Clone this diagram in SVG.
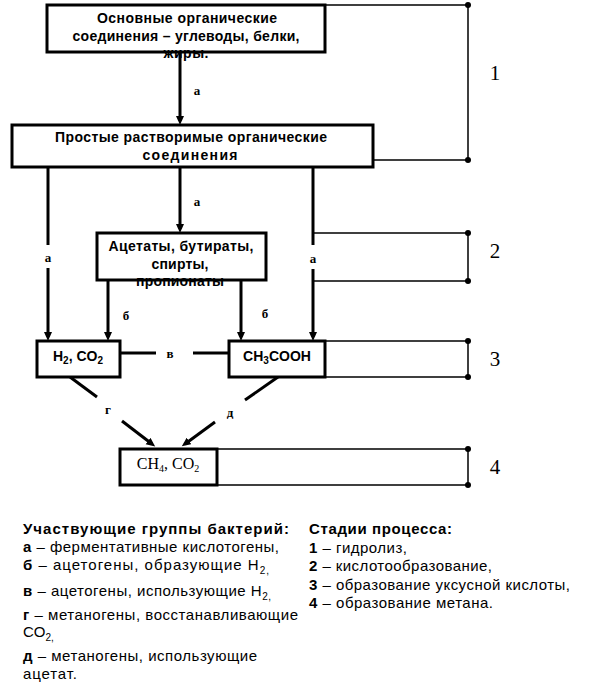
<svg xmlns="http://www.w3.org/2000/svg" width="614" height="683" viewBox="0 0 614 683">
<style>
.box{fill:#fff;stroke:#000;stroke-width:3}
.conn{fill:none;stroke:#000;stroke-width:3}
.brk{fill:none;stroke:#000;stroke-width:1.5}
.dot{fill:#000}
.bt{font-family:"Liberation Sans",Arial,sans-serif;font-weight:bold;font-size:14px;text-anchor:middle}
.lbl{font-family:"Liberation Serif","Times New Roman",serif;font-weight:bold;font-size:13px;text-anchor:middle}
.num{font-family:"Liberation Serif","Times New Roman",serif;font-size:21px;text-anchor:middle}
.leg{font-family:"Liberation Sans",Arial,sans-serif;font-size:15px}
.b{font-weight:bold}
.sub{font-size:10px}
.ser{font-family:"Liberation Serif","Times New Roman",serif;font-size:16px;text-anchor:middle}
</style>
<defs>
<marker id="arr" markerUnits="userSpaceOnUse" markerWidth="10" markerHeight="10" viewBox="0 0 10 10" refX="5" refY="4" orient="auto">
<path d="M0,0 L9,4 L0,8 z" fill="#000"/>
</marker>
</defs>
<g id="connectors">
<path class="conn" d="M180,52 V121" marker-end="url(#arr)"/>
<path class="conn" d="M180,167 V229" marker-end="url(#arr)"/>
<path class="conn" d="M48,167 V245"/>
<path class="conn" d="M48,268 V337" marker-end="url(#arr)"/>
<path class="conn" d="M313,167 V245"/>
<path class="conn" d="M313,269 V337" marker-end="url(#arr)"/>
<path class="conn" d="M108,280 V337" marker-end="url(#arr)"/>
<path class="conn" d="M241,280 V337" marker-end="url(#arr)"/>
<path class="conn" d="M120,353 H156"/>
<path class="conn" d="M193,353 H229"/>
<path class="conn" d="M70,377 L97,397"/>
<path class="conn" d="M122,421 L152,444" marker-end="url(#arr)"/>
<path class="conn" d="M278,377 L245,400"/>
<path class="conn" d="M215,422 L185,444" marker-end="url(#arr)"/>
<text class="lbl" x="197" y="95">а</text>
<text class="lbl" x="197" y="206">а</text>
<text class="lbl" x="48" y="262">а</text>
<text class="lbl" x="313" y="263">а</text>
<text class="lbl" x="126" y="320">б</text>
<text class="lbl" x="265" y="318">б</text>
<text class="lbl" x="170" y="358">в</text>
<text class="lbl" x="108" y="414">г</text>
<text class="lbl" x="230" y="417">д</text>
</g>
<g id="stages">
<path class="brk" d="M325,5 H468 V160 M373,160 H468"/>
<path class="brk" d="M313,233 H468 V281 H313"/>
<path class="brk" d="M325,341 H468 V377 H325"/>
<path class="brk" d="M217,449 H468 V485 H217"/>
<circle class="dot" cx="468" cy="5" r="3"/>
<circle class="dot" cx="468" cy="160" r="3"/>
<circle class="dot" cx="468" cy="233" r="3"/>
<circle class="dot" cx="468" cy="281" r="3"/>
<circle class="dot" cx="468" cy="341" r="3"/>
<circle class="dot" cx="468" cy="377" r="3"/>
<circle class="dot" cx="468" cy="449" r="3"/>
<circle class="dot" cx="468" cy="485" r="3"/>
<text class="num" x="495" y="80">1</text>
<text class="num" x="495" y="258">2</text>
<text class="num" x="495" y="366">3</text>
<text class="num" x="495" y="474">4</text>
</g>
<g id="n1">
<rect class="box" x="47" y="5" width="278" height="47"/>
<text class="bt" x="187" y="23" textLength="180" lengthAdjust="spacing">Основные органические</text>
<text class="bt" x="186" y="41" textLength="227" lengthAdjust="spacing">соединения – углеводы, белки,</text>
<text class="bt" x="186" y="58" textLength="45" lengthAdjust="spacing">жиры.</text>
</g>
<g id="n2">
<rect class="box" x="12" y="125" width="361" height="42"/>
<text class="bt" x="191" y="142" textLength="272" lengthAdjust="spacing">Простые растворимые органические</text>
<text class="bt" x="190" y="160" textLength="95" lengthAdjust="spacing">соединения</text>
</g>
<g id="n3">
<rect class="box" x="97" y="233" width="169" height="47"/>
<text class="bt" x="181" y="251" textLength="145" lengthAdjust="spacing">Ацетаты, бутираты,</text>
<text class="bt" x="180" y="269" textLength="57" lengthAdjust="spacing">спирты,</text>
<text class="bt" x="180" y="286" textLength="88" lengthAdjust="spacing">пропионаты</text>
</g>
<g id="n4">
<rect class="box" x="37" y="341" width="83" height="36"/>
<text class="bt" x="78" y="361">H<tspan class="sub" dy="3">2</tspan><tspan dy="-3">, CO</tspan><tspan class="sub" dy="3">2</tspan></text>
</g>
<g id="n5">
<rect class="box" x="229" y="341" width="96" height="36"/>
<text class="bt" x="277" y="361">CH<tspan class="sub" dy="3">3</tspan><tspan dy="-3">COOH</tspan></text>
</g>
<g id="n6">
<rect class="box" x="120" y="449" width="97" height="36"/>
<text class="ser" x="168" y="469">CH<tspan class="sub" dy="3">4</tspan><tspan dy="-3">, CO</tspan><tspan class="sub" dy="3">2</tspan></text>
</g>
<g id="legend-bacteria" class="leg">
<text x="23" y="534" class="b" textLength="266" lengthAdjust="spacing">Участвующие группы бактерий:</text>
<text x="23" y="552" textLength="256" lengthAdjust="spacing"><tspan class="b">а</tspan> – ферментативные кислотогены,</text>
<text x="23" y="570" textLength="246" lengthAdjust="spacing"><tspan class="b">б</tspan> – ацетогены, образующие H<tspan class="sub" dy="4">2,</tspan></text>
<text x="23" y="596" textLength="248" lengthAdjust="spacing"><tspan class="b">в</tspan> – ацетогены, использующие H<tspan class="sub" dy="4">2,</tspan></text>
<text x="23" y="620" textLength="275" lengthAdjust="spacing"><tspan class="b">г</tspan> – метаногены, восстанавливающие</text>
<text x="23" y="637">CO<tspan class="sub" dy="4">2,</tspan></text>
<text x="23" y="661" textLength="234" lengthAdjust="spacing"><tspan class="b">д</tspan> – метаногены, использующие</text>
<text x="23" y="679" textLength="54" lengthAdjust="spacing">ацетат.</text>
</g>
<g id="legend-stages" class="leg">
<text x="309" y="534" class="b" textLength="143" lengthAdjust="spacing">Стадии процесса:</text>
<text x="309" y="553" textLength="98" lengthAdjust="spacing"><tspan class="b">1</tspan> – гидролиз,</text>
<text x="309" y="571" textLength="183" lengthAdjust="spacing"><tspan class="b">2</tspan> – кислотообразование,</text>
<text x="309" y="590" textLength="261" lengthAdjust="spacing"><tspan class="b">3</tspan> – образование уксусной кислоты,</text>
<text x="309" y="608" textLength="184" lengthAdjust="spacing"><tspan class="b">4</tspan> – образование метана.</text>
</g>
</svg>
